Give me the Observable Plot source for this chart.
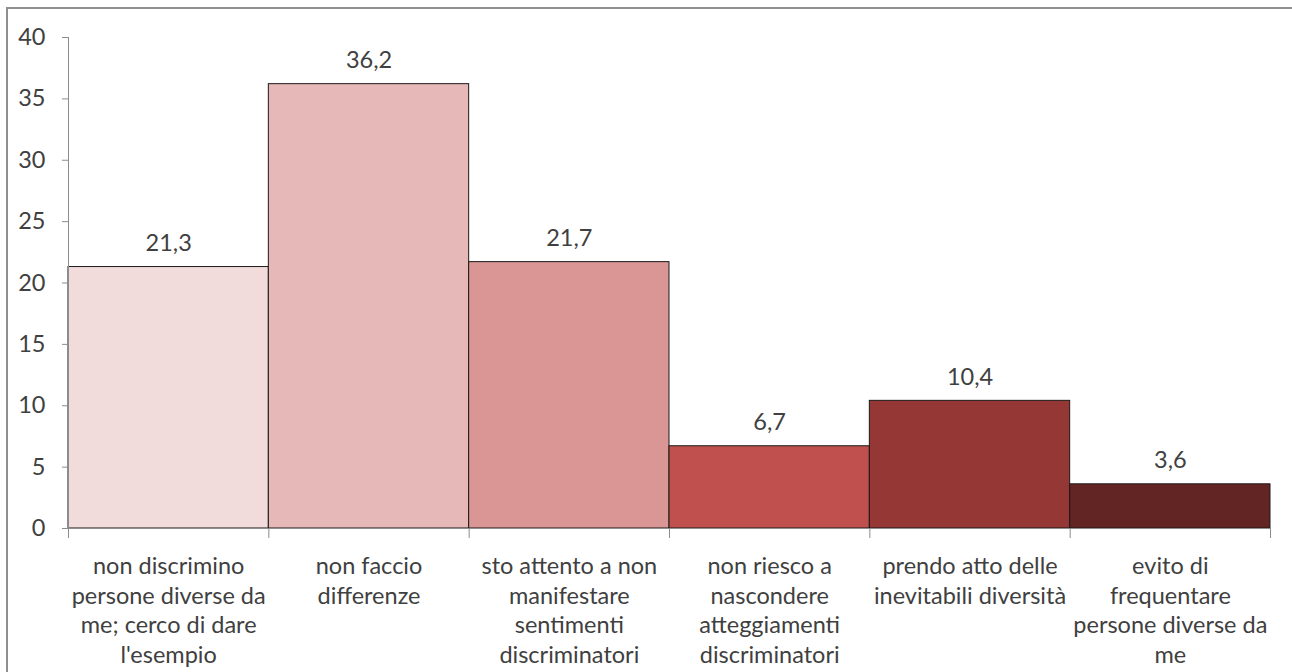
<!DOCTYPE html>
<html>
<head>
<meta charset="utf-8">
<script src="https://cdn.jsdelivr.net/npm/d3@7"></script>
<script src="https://cdn.jsdelivr.net/npm/@observablehq/plot@0.6"></script>
<style>
  html, body { margin: 0; padding: 0; background: #fff; overflow: hidden; }
  #wrap { position: relative; width: 1292px; height: 672px; overflow: hidden; }
  #border { position: absolute; left: 6px; top: 7px; width: 1400px; height: 800px;
            border-top: 2px solid #8f8f8f; border-left: 2px solid #8f8f8f;
            box-sizing: border-box; pointer-events: none; }
  #chart { position: absolute; left: 0; top: 0; }
</style>
</head>
<body>
<div id="wrap">
  <div id="chart"></div>
  <div id="border"></div>
</div>
<script>
// Answer categories (with their line breaks) and percentages
const categories = [
  "non discrimino\npersone diverse da\nme; cerco di dare\nl'esempio",
  "non faccio\ndifferenze",
  "sto attento a non\nmanifestare\nsentimenti\ndiscriminatori",
  "non riesco a\nnascondere\natteggiamenti\ndiscriminatori",
  "prendo atto delle\ninevitabili diversità",
  "evito di\nfrequentare\npersone diverse da\nme"
];
const values = [21.3, 36.2, 21.7, 6.7, 10.4, 3.6];
const colors = ["#F2DCDB", "#E6B9B8", "#D99694", "#C0504D", "#953735", "#632523"];
const yTicks = [0, 5, 10, 15, 20, 25, 30, 35, 40];

const data = categories.map((c, i) => ({i, label: c, value: values[i]}));
const fmt = v => v.toFixed(1).replace(".", ",");

const font = "Lato, 'Noto Sans', sans-serif";
const fs = 23.5;
const textColor = "#404040";
const axisColor = "#8c8c8c";

const chart = Plot.plot({
  width: 1292,
  height: 672,
  marginLeft: 68,
  marginRight: 22,
  marginTop: 37,
  marginBottom: 144,
  style: {fontFamily: font, fontSize: fs + "px", color: textColor, background: "transparent"},
  x: {domain: [0, categories.length], axis: null},
  y: {domain: [0, 40], axis: null},
  color: {domain: d3.range(categories.length), range: colors},
  marks: [
    // bars fill their whole slot, outlined in dark
    Plot.rectY(data, {x1: d => d.i, x2: d => d.i + 1, y: "value", fill: "i", stroke: "#1a1a1a", strokeWidth: 1}),
    // value labels above each bar
    Plot.text(data, {x: d => d.i + 0.5, y: "value", text: d => fmt(d.value), lineAnchor: "bottom", dy: -16,
                     fill: textColor, fontSize: fs}),
    // axis lines
    Plot.ruleX([0], {stroke: axisColor}),
    Plot.ruleY([0], {stroke: axisColor}),
    // y ticks and labels
    Plot.axisY(yTicks, {tickSize: 6, tickPadding: 17, stroke: axisColor, fill: textColor, fontSize: fs, label: null}),
    // x ticks at the slot boundaries
    Plot.axisX(d3.range(categories.length + 1), {tickSize: 10, tickFormat: () => "", stroke: axisColor, label: null}),
    // category labels under each slot
    Plot.text(data, {x: d => d.i + 0.5, frameAnchor: "bottom", text: "label", lineAnchor: "top",
                     dy: 25, lineHeight: 1.255, fill: textColor, fontSize: fs})
  ]
});
document.getElementById("chart").appendChild(chart);
</script>
</body>
</html>
